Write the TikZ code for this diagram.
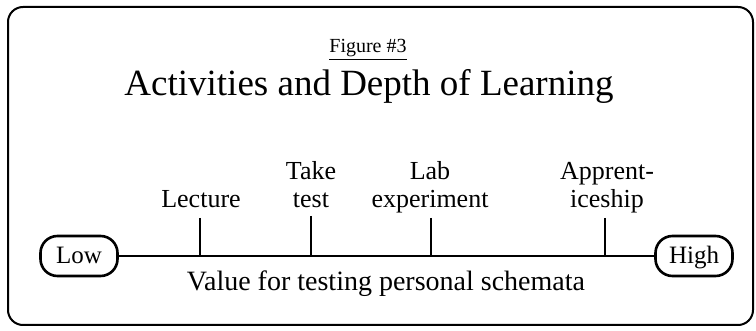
\documentclass[tikz,border=0pt]{standalone}
\usepackage{fontspec}
\setmainfont{Liberation Serif}
\usetikzlibrary{positioning}

\begin{document}
\begin{tikzpicture}[x=1pt, y=-1pt,
            endpoint/.style={draw, line width=2.6pt, rounded corners=17pt, minimum width=77pt, minimum height=40pt, inner sep=0pt, text height=17pt, text depth=1pt, font=\fontsize{25}{28}\selectfont},
            activity/.style={anchor=south, align=center, inner sep=0pt, text depth=0pt, font=\fontsize{26}{28}\selectfont},
            tick/.style={line width=2.8pt}]
            \useasboundingbox (0, 0) rectangle (756, 331);
            \draw[line width=2pt, rounded corners=15pt] (8, 7) rectangle (753, 325);

            \node[anchor=base, font=\fontsize{20}{24}\selectfont] (figno) at (368, 53) {\underline{Figure \#3}};
            \node[anchor=base, font=\fontsize{37}{40}\selectfont] (title) at (369, 96) {Activities and Depth of Learning};

            \node[endpoint] (low) at (79, 256) {Low};
            \node[endpoint] (high) at (694, 256) {High};
            \node[anchor=base, font=\fontsize{28}{30}\selectfont] (axis_label) at (386, 291) {Value for testing personal schemata};

            \node[activity] (lecture) at (201, 208) {Lecture};
            \node[activity] (take_test) at (311, 208) {Take\\test};
            \node[activity] (lab) at (430, 208) {Lab\\experiment};
            \node[activity] (apprent) at (607, 208) {Apprent-\\iceship};

            \coordinate (lecture_top) at (200, 218);
            \coordinate (take_test_top) at (311, 216);
            \coordinate (lab_top) at (431, 218);
            \coordinate (apprent_top) at (605, 218);

            \draw[tick] (low) -- (high);
            \draw[tick] (lecture_top) -- (lecture_top |- low);
            \draw[tick] (take_test_top) -- (take_test_top |- low);
            \draw[tick] (lab_top) -- (lab_top |- low);
            \draw[tick] (apprent_top) -- (apprent_top |- low);
        \end{tikzpicture}
\end{document}
